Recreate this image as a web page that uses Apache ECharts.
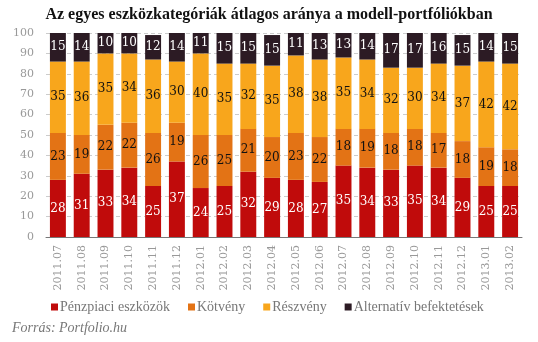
<!DOCTYPE html>
<html><head><meta charset="utf-8">
<script src="https://cdn.jsdelivr.net/npm/echarts@6/dist/echarts.min.js"></script>
<style>html,body{margin:0;padding:0;background:#fff}#c{width:538px;height:342px}</style>
</head><body><div id="c"></div>
<script>
const categories = ['2011.07','2011.08','2011.09','2011.10','2011.11','2011.12','2012.01','2012.02','2012.03','2012.04','2012.05','2012.06','2012.07','2012.08','2012.09','2012.10','2012.11','2012.12','2013.01','2013.02'];
const penzpiaci = [28,31,33,34,25,37,24,25,32,29,28,27,35,34,33,35,34,29,25,25];
const kotveny   = [23,19,22,22,26,19,26,25,21,20,23,22,18,19,18,18,17,18,19,18];
const reszveny  = [35,36,35,34,36,30,40,35,32,35,38,38,35,34,32,30,34,37,42,42];
const alternativ= [15,14,10,10,12,14,11,15,15,15,11,13,13,14,17,17,16,15,14,15];
const yTicks = [0,10,20,30,40,50,60,70,80,90,100];

const FONT = '"DejaVu Serif", "Liberation Serif", serif';
const FONT2 = '"Liberation Serif", serif';
const chart = echarts.init(document.getElementById('c'));
function s(name, data, color, labelColor){
  return {name, type:'bar', stack:'a', data, barWidth:'67%', itemStyle:{color},
    label:{show:true, position:'inside', color:labelColor, fontFamily:FONT, fontSize:12}};
}
chart.setOption({
  animation:false,
  title:{text:'Az egyes eszközkategóriák átlagos aránya a modell-portfóliókban', left:'center', top:2,
    textStyle:{fontFamily:FONT2, fontWeight:'bold', fontSize:16, color:'#111'}},
  grid:{left:46, right:16, top:33, bottom:105},
  xAxis:{type:'category', data:categories,
    axisLine:{lineStyle:{color:'#777', width:1}}, axisTick:{show:false},
    axisLabel:{rotate:90, color:'#999', fontFamily:FONT, fontSize:11, margin:8}},
  yAxis:{type:'value', min:0, max:100, interval:10,
    axisLine:{show:false}, axisTick:{show:false},
    axisLabel:{color:'#999', fontFamily:FONT, fontSize:11, margin:12,
      formatter:v=>yTicks.includes(v)?String(v):''},
    splitLine:{lineStyle:{color:'#ccc', type:[4,3]}}},
  legend:{top:295, left:46, itemWidth:7, itemHeight:7, itemGap:18, icon:'rect',
    textStyle:{fontFamily:FONT2, fontSize:14, color:'#777', padding:[0,0,0,-3]}},
  graphic:[{type:'text', left:12, top:321, style:{text:'Forrás: Portfolio.hu', fontFamily:FONT2, fontStyle:'italic', fontSize:14, fill:'#777'}}],
  series:[
    s('Pénzpiaci eszközök', penzpiaci, '#C00B0B', '#fff'),
    s('Kötvény', kotveny, '#E37315', '#111'),
    s('Részvény', reszveny, '#F8A61C', '#111'),
    s('Alternatív befektetések', alternativ, '#2C1B24', '#fff')
  ]
});
</script></body></html>
